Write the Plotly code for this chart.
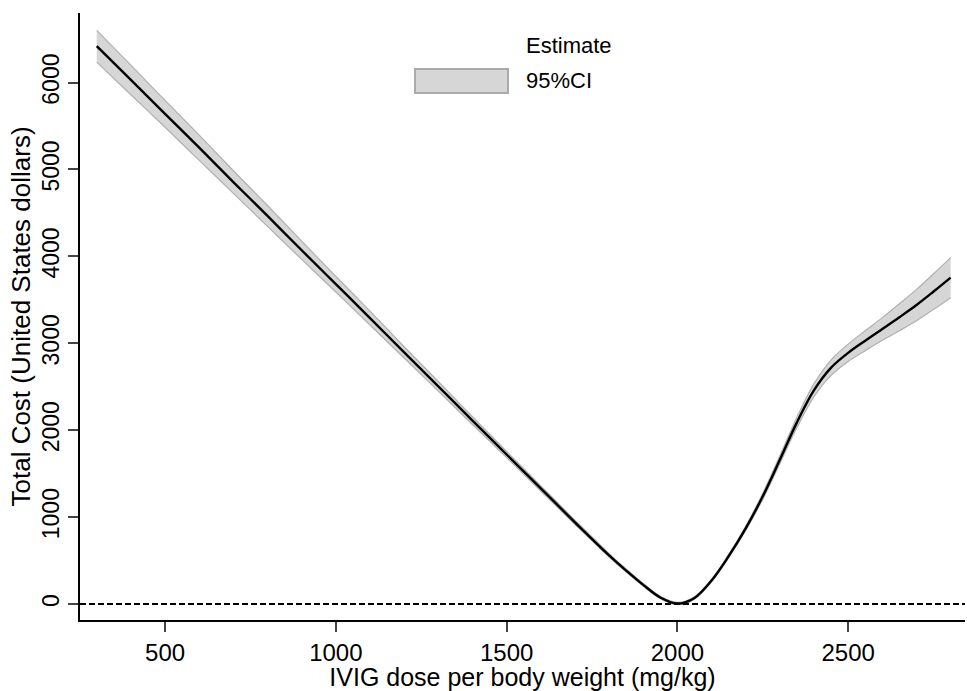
import plotly.graph_objects as go

dose = [300, 400, 500, 600, 700, 800, 900, 1000, 1100, 1200, 1300, 1400, 1500,
        1600, 1700, 1800, 1850, 1900, 1950, 2000, 2050, 2100, 2150, 2200, 2250,
        2300, 2350, 2400, 2450, 2500, 2550, 2600, 2650, 2700, 2750, 2800]
estimate = [6420, 6030, 5640, 5250, 4855, 4465, 4070, 3680, 3290, 2895, 2505, 2110, 1720,
            1330, 940, 560, 385, 220, 75, 5, 70, 270, 550, 870, 1240,
            1660, 2090, 2460, 2720, 2890, 3030, 3165, 3300, 3440, 3595, 3755]
ci_lower = [6235, 5860, 5485, 5105, 4725, 4345, 3965, 3590, 3210, 2830, 2450, 2065, 1685,
            1300, 915, 540, 368, 205, 62, -8, 56, 254, 530, 845, 1205,
            1615, 2030, 2385, 2630, 2790, 2915, 3035, 3145, 3260, 3390, 3525]
ci_upper = [6600, 6200, 5795, 5395, 4985, 4585, 4175, 3770, 3370, 2960, 2560, 2155, 1755,
            1360, 965, 580, 402, 235, 88, 18, 84, 286, 570, 895, 1275,
            1705, 2150, 2535, 2810, 2990, 3145, 3295, 3455, 3620, 3800, 3985]

x_ticks = [500, 1000, 1500, 2000, 2500]
y_ticks = [0, 1000, 2000, 3000, 4000, 5000, 6000]

FONT = "Arial, Liberation Sans, sans-serif"
band_fill = "#d6d6d6"
band_edge = "#b0b0b0"

L, R, T, B = 80, 2, 13, 71
W, H = 967, 691
PW, PH = W - L - R, H - T - B

fig = go.Figure()
fig.add_trace(go.Scatter(x=dose, y=ci_lower, mode="lines", line=dict(color=band_edge, width=1.2, shape="spline"),
                         showlegend=False, hoverinfo="skip"))
fig.add_trace(go.Scatter(x=dose, y=ci_upper, mode="lines", line=dict(color=band_edge, width=1.2, shape="spline"),
                         fill="tonexty", fillcolor=band_fill, name="95%CI", showlegend=False))
fig.add_trace(go.Scatter(x=dose, y=estimate, mode="lines", line=dict(color="black", width=2.4, shape="spline"),
                         name="Estimate", showlegend=False))

fig.add_shape(type="line", xref="paper", yref="y", x0=0, x1=1, y0=0, y1=0,
              line=dict(color="black", width=2, dash="6px,3px"))

# legend (drawn manually to match the reference layout)
fig.add_shape(type="rect", xref="paper", yref="paper",
              x0=(415 - L) / PW, x1=(508 - L) / PW,
              y0=(H - B - 93) / PH, y1=(H - B - 69) / PH,
              fillcolor=band_fill, line=dict(color="#aaaaaa", width=2))
fig.add_annotation(text="Estimate", xref="paper", yref="paper", x=(524 - L) / PW, y=(H - B - 46) / PH,
                   xanchor="left", yanchor="middle", showarrow=False,
                   font=dict(family=FONT, size=22, color="black"))
fig.add_annotation(text="95%CI", xref="paper", yref="paper", x=(524 - L) / PW, y=(H - B - 81) / PH,
                   xanchor="left", yanchor="middle", showarrow=False,
                   font=dict(family=FONT, size=22, color="black"))

fig.update_layout(
    width=W, height=H,
    margin=dict(l=L, r=R, t=T, b=B),
    paper_bgcolor="white", plot_bgcolor="white",
    font=dict(family=FONT, size=22, color="black"),
    showlegend=False,
)
fig.update_xaxes(range=[251, 2842], tickvals=x_ticks, ticks="outside", ticklen=10, tickwidth=1.5,
                 showline=True, linecolor="black", linewidth=1.5, showgrid=False, zeroline=False,
                 automargin=False,
                 title=dict(text="IVIG dose per body weight (mg/kg)", standoff=2,
                            font=dict(family=FONT, size=25)),
                 tickfont=dict(family=FONT, size=24))
fig.update_yaxes(range=[-184, 6800], tickvals=y_ticks, ticks="outside", ticklen=10, tickwidth=1.5,
                 tickangle=-90, automargin=False,
                 showline=True, linecolor="black", linewidth=1.5, showgrid=False, zeroline=False,
                 title=dict(text="Total Cost (United States dollars)", standoff=0,
                            font=dict(family=FONT, size=26)),
                 tickfont=dict(family=FONT, size=23))

fig.write_html("out.html", config={"displayModeBar": False},
               post_script="document.body.style.margin='0';document.body.style.overflow='hidden';")
